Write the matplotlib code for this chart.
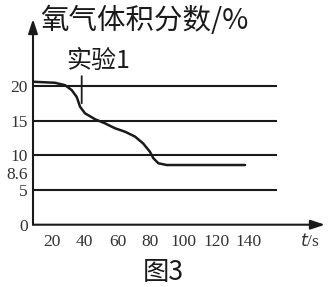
import matplotlib
matplotlib.use("Agg")
import matplotlib.pyplot as plt
from matplotlib.transforms import ScaledTranslation

# ---- data ----
time_s = [8.7, 22.1, 28.2, 32.2, 35.3, 37.3, 40.3, 46.4, 52.5, 58.5, 64.6,
          70.7, 75.7, 79.8, 81.8, 84.9, 90.0, 137.6]
oxygen_pct = [20.6, 20.45, 20.1, 19.4, 18.4, 17.0, 16.05, 15.2, 14.6, 13.9,
              13.4, 12.7, 11.7, 10.5, 9.6, 8.85, 8.6, 8.6]
grid_levels = [5, 10, 15, 20]
y_ticks = [0, 5, 8.6, 10, 15, 20]
y_tick_labels = ["0", "5", "8.6", "10", "15", "20"]
x_ticks = [20, 40, 60, 80, 100, 120, 140]
x_tick_labels = ["20", "40", "60", "80", "100", "120", "140"]
title_text = "氧气体积分数/%"
series_label = "实验1"
series_pointer_x = 38.3
figure_caption = "图3"

W, H = 329, 287
fig = plt.figure(figsize=(W / 100, H / 100), dpi=100)
fig.patch.set_facecolor("white")

ax_l, ax_r, ax_t, ax_b = 33, 325, 19, 224.7
ax = fig.add_axes([ax_l / W, 1 - ax_b / H, (ax_r - ax_l) / W, (ax_b - ax_t) / H])
xmin, xmax = 8.7, 186.2
ax.set_xlim(xmin, xmax)
ax.set_ylim(0, 29.64)
for s in ax.spines.values():
    s.set_visible(False)

ink = "#1a1a1a"
serif = ["Liberation Serif", "DejaVu Serif"]
cjk = ["Noto Sans CJK SC", "DejaVu Sans"]

# grid lines
ax.hlines(grid_levels, xmin, 157, color=ink, lw=1.5)

# axes with arrows
arrow = dict(arrowstyle="-|>,head_length=0.85,head_width=0.28", color=ink,
             lw=1.5, mutation_scale=10, shrinkA=0, shrinkB=0)
ax.annotate("", xy=(xmin, 29.64), xytext=(xmin, 0), arrowprops=arrow,
            annotation_clip=False)
ax.annotate("", xy=(xmax, 0), xytext=(xmin, 0), arrowprops=arrow,
            annotation_clip=False)

# curve
ax.plot(time_s, oxygen_pct, color=ink, lw=1.8, solid_capstyle="round",
        solid_joinstyle="round")

# pointer line for the series label
ax.annotate("", xy=(series_pointer_x, 17.5), xytext=(series_pointer_x, 21.4),
            arrowprops=dict(arrowstyle="-", color=ink, lw=1.3, shrinkA=0,
                            shrinkB=0), annotation_clip=False)

# ticks
ax.set_yticks(y_ticks)
ax.set_yticklabels(y_tick_labels, family=serif, fontsize=12.5, color="#333333")
ax.set_xticks(x_ticks)
ax.set_xticklabels(x_tick_labels, family=serif, fontsize=12.5, color="#333333")
ax.tick_params(axis="y", length=0, pad=3.6)
ax.tick_params(axis="x", length=0, pad=7)

# the 8.6 label sits a little below its level in the reference
for lbl in ax.get_yticklabels():
    if lbl.get_text() == "8.6":
        lbl.set_transform(lbl.get_transform() +
                          ScaledTranslation(0, -6 / 72, fig.dpi_scale_trans))

# texts
fig.text(40 / W, 1 - 21 / H, title_text, ha="left", va="center",
         fontsize=20.5, family=cjk, color=ink)
fig.text(66 / W, 1 - 61 / H, series_label, ha="left", va="center",
         fontsize=18, family=cjk, color=ink)
fig.text(300 / W, 1 - 241 / H, "$\\it{t}$/s", ha="left", va="center",
         fontsize=12.5, family=serif, color="#333333")
fig.text(163 / W, 1 - 273 / H, figure_caption, ha="center", va="center",
         fontsize=19, family=cjk, color=ink)

fig.savefig("out.png", dpi=100, facecolor="white")
